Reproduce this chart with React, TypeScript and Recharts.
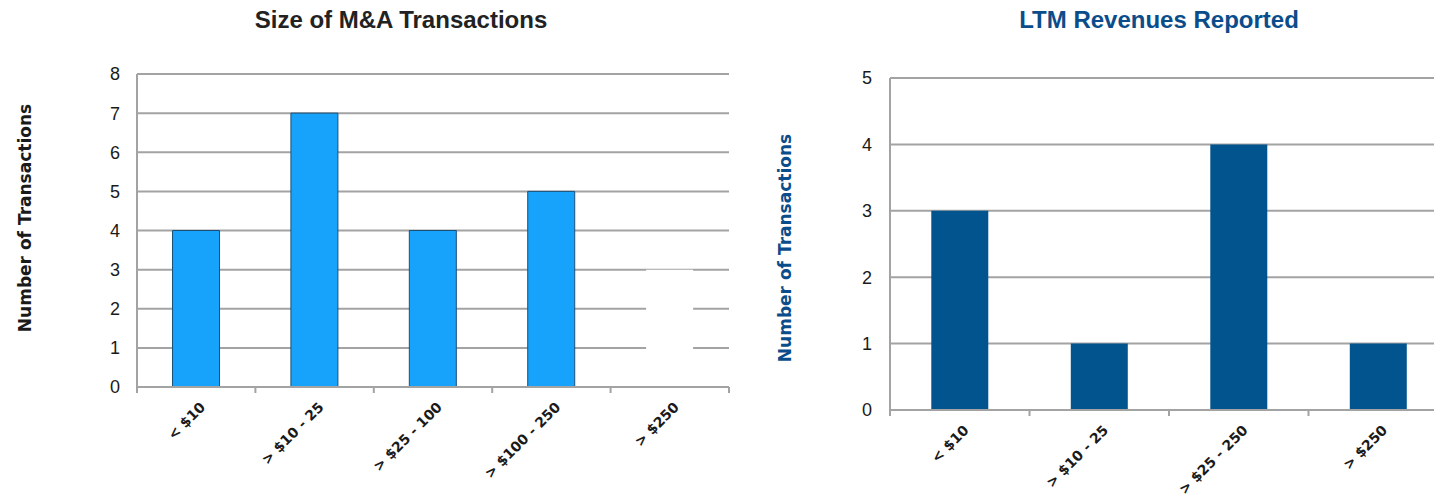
import { BarChart, Bar, XAxis, YAxis, CartesianGrid, Cell } from 'recharts'

const sizeCategories = ['< $10', '> $10 - 25', '> $25 - 100', '> $100 - 250', '> $250']
const sizeCounts = [4, 7, 4, 5, 3]
const sizeTicks = [0, 1, 2, 3, 4, 5, 6, 7, 8]

const revenueCategories = ['< $10', '> $10 - 25', '> $25 - 250', '> $250']
const revenueCounts = [3, 1, 4, 1]
const revenueTicks = [0, 1, 2, 3, 4, 5]

const sizeData = sizeCategories.map((name, i) => ({ name, value: sizeCounts[i] }))
const revenueData = revenueCategories.map((name, i) => ({ name, value: revenueCounts[i] }))

const GRID = '#A3A3A3'
const LIGHT_BLUE = '#17A3FB'
const NAVY = '#02548F'
const TITLE_BLUE = '#0B4D8A'

// category label rotated like the original, plus a boundary tick on each side of the band
function CategoryTick(props: any) {
  const { x, y, payload, index, count } = props
  const half = payload?.offset ?? 0
  return (
    <g>
      <line x1={x - half} x2={x - half} y1={y} y2={y + 6} stroke={GRID} strokeWidth={2} />
      {index === count - 1 && (
        <line x1={x + half} x2={x + half} y1={y} y2={y + 6} stroke={GRID} strokeWidth={2} />
      )}
      <g transform={`translate(${x + 10},${y + 21})`}>
        <text
          textAnchor="end"
          transform="rotate(-45)"
          fontFamily="'DejaVu Sans', sans-serif"
          fontWeight="bold"
          fontSize={14}
          fill="#1a1a1a"
        >
          {payload.value}
        </text>
      </g>
    </g>
  )
}

const tickFont = { fontSize: 18, fill: '#1a1a1a', fontFamily: "'Liberation Sans', Arial, sans-serif" }

export default function App() {
  return (
    <div
      style={{
        position: 'absolute',
        left: 0,
        top: 0,
        width: 1434,
        height: 500,
        overflow: 'hidden',
        background: '#fff',
        fontFamily: "'Liberation Sans', Arial, sans-serif",
      }}
    >
      {/* left chart */}
      <div style={{ position: 'absolute', left: 0, top: 6, width: 802, textAlign: 'center', fontSize: 24, fontWeight: 'bold', color: '#222' }}>
        Size of M&amp;A Transactions
      </div>
      <div
        style={{
          position: 'absolute',
          left: 25,
          top: 218,
          transform: 'translate(-50%, -50%) rotate(-90deg)',
          whiteSpace: 'nowrap',
          fontFamily: "'DejaVu Sans', sans-serif",
          fontWeight: 'bold',
          fontSize: 17,
          color: '#1a1a1a',
        }}
      >
        Number of Transactions
      </div>
      <div style={{ position: 'absolute', left: 0, top: 0 }}>
        <BarChart
          width={760}
          height={500}
          data={sizeData}
          margin={{ top: 74, right: 31, left: 87, bottom: 13 }}
          barCategoryGap="30%"
        >
          <CartesianGrid vertical={false} stroke={GRID} strokeWidth={2} />
          <XAxis
            dataKey="name"
            height={100}
            interval={0}
            tickSize={0}
            tickMargin={0}
            tickLine={false}
            axisLine={{ stroke: GRID, strokeWidth: 2 }}
            tick={(p: any) => <CategoryTick {...p} count={sizeCategories.length} />}
          />
          <YAxis
            width={50}
            domain={[0, 8]}
            ticks={sizeTicks}
            interval={0}
            tickSize={0}
            tickMargin={17}
            tickLine={false}
            axisLine={{ stroke: GRID, strokeWidth: 2 }}
            tick={tickFont}
          />
          <Bar dataKey="value" isAnimationActive={false} stroke="#1B4F78" strokeWidth={1}>
            {sizeData.map((d, i) => (
              <Cell
                key={d.name}
                fill={i === sizeData.length - 1 ? '#FFFFFF' : LIGHT_BLUE}
                stroke={i === sizeData.length - 1 ? 'none' : '#1B4F78'}
              />
            ))}
          </Bar>
        </BarChart>
      </div>

      {/* right chart */}
      <div style={{ position: 'absolute', left: 1159 - 300, top: 6, width: 600, textAlign: 'center', fontSize: 24, fontWeight: 'bold', color: TITLE_BLUE }}>
        LTM Revenues Reported
      </div>
      <div
        style={{
          position: 'absolute',
          left: 785,
          top: 248,
          transform: 'translate(-50%, -50%) rotate(-90deg)',
          whiteSpace: 'nowrap',
          fontFamily: "'DejaVu Sans', sans-serif",
          fontWeight: 'bold',
          fontSize: 17,
          color: TITLE_BLUE,
        }}
      >
        Number of Transactions
      </div>
      <div style={{ position: 'absolute', left: 760, top: 0 }}>
        <BarChart
          width={700}
          height={500}
          data={revenueData}
          margin={{ top: 78, right: 12, left: 80, bottom: 10 }}
          barCategoryGap="29.6%"
        >
          <CartesianGrid vertical={false} stroke={GRID} strokeWidth={2} />
          <XAxis
            dataKey="name"
            height={80}
            interval={0}
            tickSize={0}
            tickMargin={0}
            tickLine={false}
            axisLine={{ stroke: GRID, strokeWidth: 2 }}
            tick={(p: any) => <CategoryTick {...p} count={revenueCategories.length} />}
          />
          <YAxis
            width={50}
            domain={[0, 5]}
            ticks={revenueTicks}
            interval={0}
            tickSize={0}
            tickMargin={18}
            tickLine={false}
            axisLine={{ stroke: GRID, strokeWidth: 2 }}
            tick={tickFont}
          />
          <Bar dataKey="value" fill={NAVY} isAnimationActive={false} />
        </BarChart>
      </div>
    </div>
  )
}
